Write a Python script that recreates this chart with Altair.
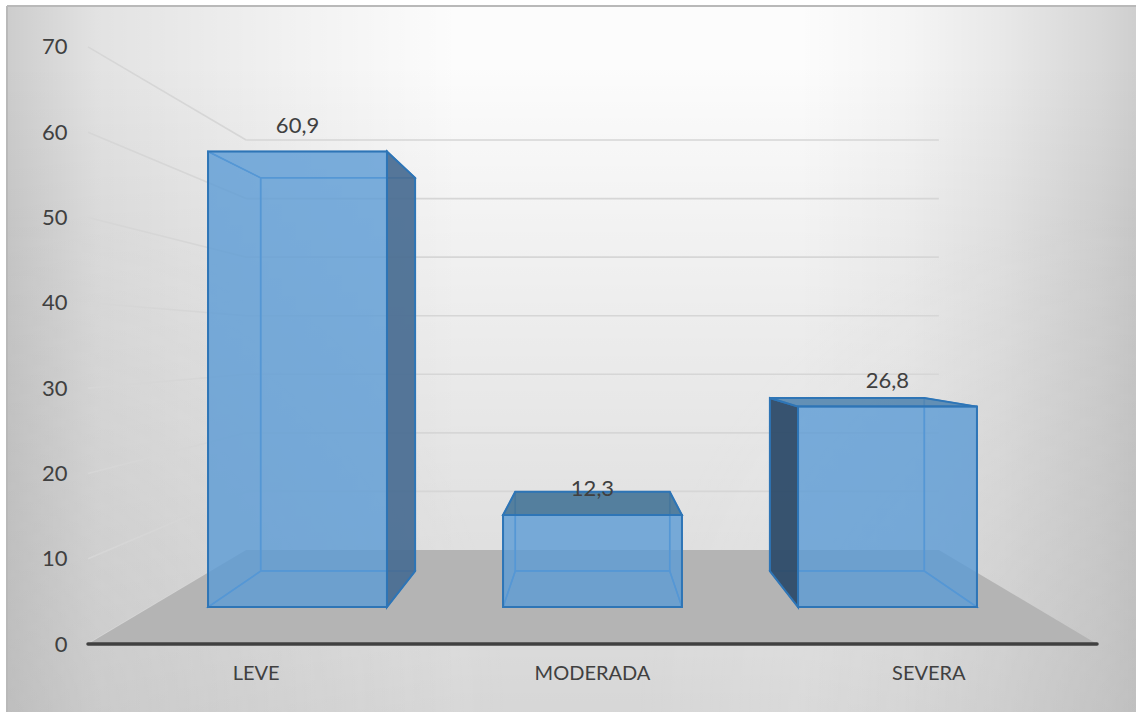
import altair as alt
import pandas as pd

categories = ["LEVE", "MODERADA", "SEVERA"]
values = [60.9, 12.3, 26.8]
axis_ticks = [0, 10, 20, 30, 40, 50, 60, 70]

# Perspective set-up of the 3D column chart
W, H = 1136, 712
PLANE_L, PLANE_R = 88.0, 1097.0     # floor front edge, in pixels
AXIS_ZERO_PX = 644.0
PX_PER_UNIT = 8.53
VANISH_X = (PLANE_L + PLANE_R) / 2
HORIZON = (AXIS_ZERO_PX - 344.0) / PX_PER_UNIT
DEPTH_K = 0.4565
BAR_DEPTH = (0.307, 0.703)
BAR_SHARE = 204.0 / 336.33

FONT = "Lato"
TEXT = "#404040"
BAR = "#5b9bd5"
EDGE = "#2e75b6"
INNER_EDGE = "#4f93d4"
GRID = "#d6d6d6"
FLOOR = "#b4b4b4"

# Faces that sit outside the front rectangle are shaded darker
OUTER_STYLE = {
    ("LEVE", "right"): ("#48698c", 0.85),
    ("MODERADA", "top"): ("#44708f", 0.8),
    ("SEVERA", "left"): ("#2f4a66", 0.92),
    ("SEVERA", "top"): ("#5585ab", 0.8),
}


def project(x, v, d):
    """Front-plane position and value at depth d -> screen position in scale units."""
    s = 1 / (1 + DEPTH_K * d)
    return VANISH_X + (x - VANISH_X) * s, HORIZON + (v - HORIZON) * s


band = (PLANE_R - PLANE_L) / len(categories)
centers = [PLANE_L + band * (i + 0.5) for i in range(len(categories))]

upright, flat, front = [], [], []
for cat, c, val in zip(categories, centers, values):
    xl, xr = c - band * BAR_SHARE / 2, c + band * BAR_SHARE / 2
    df, db = BAR_DEPTH
    (flx, fty), (frx, fby) = project(xl, val, df), project(xr, 0, df)
    (blx, bty), (brx, bby) = project(xl, val, db), project(xr, 0, db)

    def style(side):
        fill, alpha = OUTER_STYLE.get((cat, side), (BAR, 0.55))
        return dict(fill=fill, alpha=alpha, outer=(cat, side) in OUTER_STYLE)

    for name, pts, st in [
        ("back", [(blx, bty, bby), (brx, bty, bby)], style("back")),
        ("left", [(flx, fty, fby), (blx, bty, bby)], style("left")),
        ("right", [(brx, bty, bby), (frx, fty, fby)], style("right")),
    ]:
        for x, y, y2 in pts:
            upright.append(dict(face=cat + name, x=x, y=y, y2=y2, **st))
    for name, pts, st in [
        ("top", [(fty, flx, frx), (bty, blx, brx)], style("top")),
        ("bottom", [(fby, flx, frx), (bby, blx, brx)], style("bottom")),
    ]:
        for y, x, x2 in pts:
            flat.append(dict(face=cat + name, y=y, x=x, x2=x2, **st))
    for x in (flx, frx):
        front.append(dict(face=cat, x=x, y=fty, y2=fby, fill=BAR, alpha=0.55))

upright = pd.DataFrame(upright)
flat = pd.DataFrame(flat)
front = pd.DataFrame(front)

xs = alt.Scale(domain=[0, W], range=[0, W], nice=False, zero=False)
ys = alt.Scale(
    domain=[(AXIS_ZERO_PX - H) / PX_PER_UNIT, AXIS_ZERO_PX / PX_PER_UNIT],
    range=[H, 0], nice=False, zero=False,
)
value_axis = alt.Axis(
    values=axis_ticks, title=None, domain=False, ticks=False, grid=False,
    labelFont=FONT, labelFontSize=22, labelColor=TEXT, labelPadding=0,
    offset=-67, zindex=2, labelBound=False,
)
X = alt.X("x:Q", scale=xs, axis=None)
Y = alt.Y("y:Q", scale=ys, axis=value_axis, stack=None)


def panel_rect(gradient, x, x2, y, y2):
    return alt.Chart(alt.Data(values=[{}])).mark_rect(fill=gradient).encode(
        x=alt.value(x), x2=alt.value(x2), y=alt.value(y), y2=alt.value(y2)
    )


def shade(alpha):
    return f"rgba(0,0,0,{alpha})"


# Soft panel shading: lightest around the upper middle, darker to the edges
panel_base = panel_rect("#fcfcfc", 8, W, 6, H)
panel_h = panel_rect(
    {"gradient": "linear", "x1": 0, "y1": 0, "x2": 1, "y2": 0, "stops": [
        {"offset": 0, "color": shade(0.19)},
        {"offset": 0.08, "color": shade(0.1)},
        {"offset": 0.25, "color": shade(0.045)},
        {"offset": 0.4, "color": shade(0.0)},
        {"offset": 0.7, "color": shade(0.0)},
        {"offset": 0.8, "color": shade(0.03)},
        {"offset": 0.88, "color": shade(0.08)},
        {"offset": 0.97, "color": shade(0.15)},
        {"offset": 1, "color": shade(0.18)},
    ]}, 8, W, 6, H)
panel_v = panel_rect(
    {"gradient": "linear", "x1": 0, "y1": 0, "x2": 0, "y2": 1, "stops": [
        {"offset": 0, "color": shade(0.0)},
        {"offset": 0.08, "color": shade(0.0)},
        {"offset": 0.28, "color": shade(0.035)},
        {"offset": 0.7, "color": shade(0.1)},
        {"offset": 1, "color": shade(0.15)},
    ]}, 8, W, 6, H)
lift_stops = [
    {"offset": 0, "color": "rgba(255,255,255,0.2)"},
    {"offset": 1, "color": "rgba(255,255,255,0)"},
]
lift_l = panel_rect({"gradient": "radial", "x1": 0, "y1": 1, "r1": 0, "x2": 0, "y2": 1,
                     "r2": 1, "stops": lift_stops}, 8, 508, 212, H)
lift_r = panel_rect({"gradient": "radial", "x1": 1, "y1": 1, "r1": 0, "x2": 1, "y2": 1,
                     "r2": 1, "stops": lift_stops}, W - 500, W, 212, H)

frame_top = alt.Chart(alt.Data(values=[{}])).mark_rule(color="#b9b9b9", strokeWidth=2).encode(
    x=alt.value(7), x2=alt.value(W), y=alt.value(6))
frame_left = alt.Chart(alt.Data(values=[{}])).mark_rule(color="#b9b9b9", strokeWidth=2).encode(
    x=alt.value(7), y=alt.value(6), y2=alt.value(H))

# Gridlines on the left wall and the back wall
wall = []
for t in axis_ticks:
    x0, y0 = project(PLANE_L, t, 0)
    x1, y1 = project(PLANE_L, t, 1)
    wall.append(dict(x=x0, x2=x1, y=y0, y2=y1))
    x2, y2 = project(PLANE_R, t, 1)
    if t > 0:
        wall.append(dict(x=x1, x2=x2, y=y1, y2=y2))
walls = alt.Chart(pd.DataFrame(wall)).mark_rule(color=GRID, strokeWidth=1.6).encode(
    x=X, x2="x2:Q", y=Y, y2="y2:Q"
)

# Floor trapezoid
fl0, fy0 = project(PLANE_L, 0, 0)
fl1, fy1 = project(PLANE_L, 0, 1)
fr0, _ = project(PLANE_R, 0, 0)
fr1, _ = project(PLANE_R, 0, 1)
floor = alt.Chart(pd.DataFrame([
    dict(y=fy0, x=fl0, x2=fr0),
    dict(y=fy1, x=fl1, x2=fr1),
])).mark_area(orient="horizontal", color=FLOOR).encode(x=X, x2="x2:Q", y=Y)

axis_line = alt.Chart(pd.DataFrame([dict(x=fl0, x2=fr0, y=0)])).mark_rule(
    color=TEXT, strokeWidth=3.5, strokeCap="round"
).encode(x=X, x2="x2:Q", y=Y)


def face_layer(frame, orient, stroke, width):
    enc = dict(
        x=X, y=Y, detail="face:N",
        fill=alt.Fill("fill:N", scale=None),
        fillOpacity=alt.FillOpacity("alpha:Q", scale=None),
    )
    if orient == "vertical":
        enc["y2"] = "y2:Q"
    else:
        enc["x2"] = "x2:Q"
    return alt.Chart(frame).mark_area(
        orient=orient, stroke=stroke, strokeWidth=width, strokeJoin="miter"
    ).encode(**enc)


inner_up = face_layer(upright[~upright.outer], "vertical", INNER_EDGE, 1.5)
inner_flat = face_layer(flat[~flat.outer], "horizontal", INNER_EDGE, 1.5)
outer_up = face_layer(upright[upright.outer], "vertical", EDGE, 2)
outer_flat = face_layer(flat[flat.outer], "horizontal", EDGE, 2)
front_faces = face_layer(front, "vertical", EDGE, 2)

# Value labels above each column and category names under the axis
label_rows = pd.DataFrame([
    dict(
        x=project(c, v, BAR_DEPTH[0])[0],
        y=project(c, v, BAR_DEPTH[0])[1],
        label=str(v).replace(".", ","),
    )
    for c, v in zip(centers, values)
])
value_labels = alt.Chart(label_rows).mark_text(
    font=FONT, fontSize=22, color=TEXT, dy=-26, baseline="middle"
).encode(x=X, y=Y, text="label:N")

cat_rows = pd.DataFrame({"x": centers, "y": [0.0] * len(centers), "label": categories})
cat_labels = alt.Chart(cat_rows).mark_text(
    font=FONT, fontSize=20, color=TEXT, dy=30, baseline="middle"
).encode(x=X, y=Y, text="label:N")

chart = alt.layer(
    panel_base, panel_h, panel_v, lift_l, lift_r, frame_top, frame_left,
    walls, floor, axis_line,
    inner_up, inner_flat, outer_up, outer_flat, front_faces,
    value_labels, cat_labels,
).properties(
    width=W, height=H, padding=0, autosize=alt.AutoSizeParams(type="none"),
    background="white",
).configure_view(stroke=None)

chart.save("out.html", embed_options={"renderer": "svg", "actions": False})
